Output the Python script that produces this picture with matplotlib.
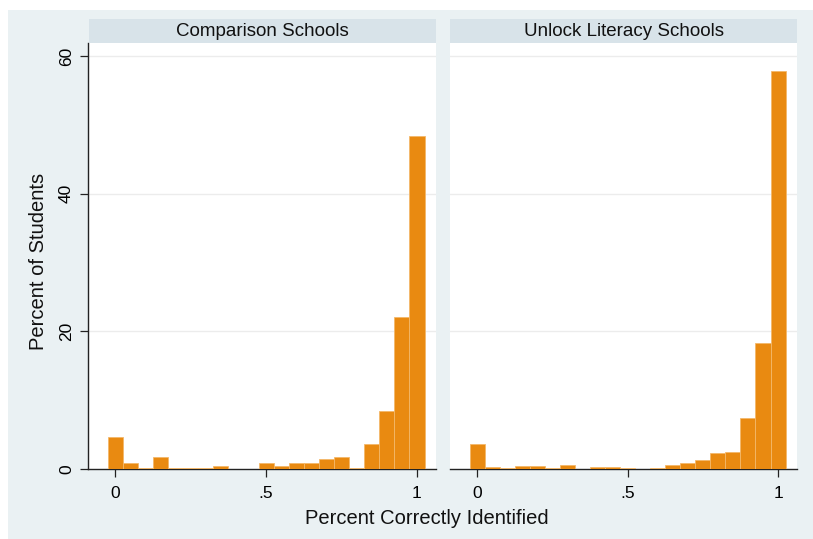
import matplotlib.pyplot as plt
from matplotlib.patches import Rectangle

# Histogram bins (width .05, centred on multiples of .05)
bin_centers = [0.00, 0.05, 0.10, 0.15, 0.20, 0.25, 0.30, 0.35, 0.40, 0.45, 0.50,
               0.55, 0.60, 0.65, 0.70, 0.75, 0.80, 0.85, 0.90, 0.95, 1.00]
bin_width = 0.05

# Percent of students per bin
comparison_pct = [4.7, 0.8, 0.2, 1.75, 0.2, 0.2, 0.2, 0.5, 0.0, 0.0, 0.8,
                  0.5, 0.8, 0.8, 1.4, 1.75, 0.2, 3.7, 8.5, 22.1, 48.4]
unlock_pct = [3.6, 0.35, 0.2, 0.5, 0.5, 0.2, 0.65, 0.05, 0.3, 0.3, 0.1,
              0.0, 0.1, 0.65, 0.85, 1.3, 2.3, 2.5, 7.4, 18.3, 57.8]

panel_titles = ['Comparison Schools', 'Unlock Literacy Schools']
x_ticks = [0, 0.5, 1]
x_tick_labels = ['0', '.5', '1']
y_ticks = [0, 20, 40, 60]

bar_color = '#e98a11'
edge_color = '#f4b86a'
outer_bg = '#eaf1f3'
strip_bg = '#d8e3e9'
axis_color = '#222222'

plt.rcParams['font.family'] = ['Liberation Sans', 'DejaVu Sans']

W, H = 813, 539
fig = plt.figure(figsize=(W / 100, H / 100), dpi=100)
fig.patch.set_facecolor('white')


def px(x0, y0, x1, y1):
    # convert pixel box (top-left origin) to figure fraction
    return [x0 / W, 1 - y1 / H, (x1 - x0) / W, (y1 - y0) / H]


# light graph region behind everything
fig.patches.append(Rectangle((8 / W, 0), 1 - 8 / W, 1 - 10 / H,
                             transform=fig.transFigure, facecolor=outer_bg,
                             edgecolor='none', zorder=-10))

panels = [(88, 436, comparison_pct), (450, 797, unlock_pct)]
for i, (x0, x1, pct) in enumerate(panels):
    ax = fig.add_axes(px(x0, 43, x1, 469))
    ax.set_facecolor('white')
    ax.bar(bin_centers, pct, width=bin_width, color=bar_color,
           edgecolor=edge_color, linewidth=0.6, zorder=3)
    ax.set_xlim(-0.09, 1.063)
    ax.set_ylim(0, 61.9)

    for yv in y_ticks[1:]:
        ax.axhline(yv, color='#ececec', linewidth=1.0, zorder=1)

    for s in ['top', 'right']:
        ax.spines[s].set_visible(False)
    ax.spines['bottom'].set_color(axis_color)
    ax.spines['bottom'].set_linewidth(1.0)

    ax.set_xticks(x_ticks)
    ax.set_xticklabels(x_tick_labels, fontsize=12.5)
    ax.tick_params(axis='x', length=6, width=0.9, color=axis_color, pad=6)

    if i == 0:
        ax.spines['left'].set_color(axis_color)
        ax.spines['left'].set_linewidth(1.0)
        ax.set_yticks(y_ticks)
        ax.set_yticklabels([str(v) for v in y_ticks], fontsize=12.5,
                           rotation=90, va='center')
        ax.tick_params(axis='y', length=6, width=0.9, color=axis_color, pad=4)
    else:
        ax.spines['left'].set_visible(False)
        ax.set_yticks([])

    # panel header strip
    hx = fig.add_axes(px(x0 if i == 1 else 89, 19, x1, 43))
    hx.set_facecolor(strip_bg)
    hx.set_xticks([])
    hx.set_yticks([])
    for s in hx.spines.values():
        s.set_visible(False)
    hx.text(0.5, 0.5, panel_titles[i], ha='center', va='center',
            fontsize=13.5, color='#111111', transform=hx.transAxes)

fig.text(427 / W, 1 - 519 / H, 'Percent Correctly Identified',
         ha='center', va='center', fontsize=14.5, color='#111111')
fig.text(39 / W, 1 - 261 / H, 'Percent of Students', ha='center',
         va='center', rotation=90, fontsize=14.5, color='#111111')

fig.savefig('out.png', dpi=100, facecolor=fig.get_facecolor())
